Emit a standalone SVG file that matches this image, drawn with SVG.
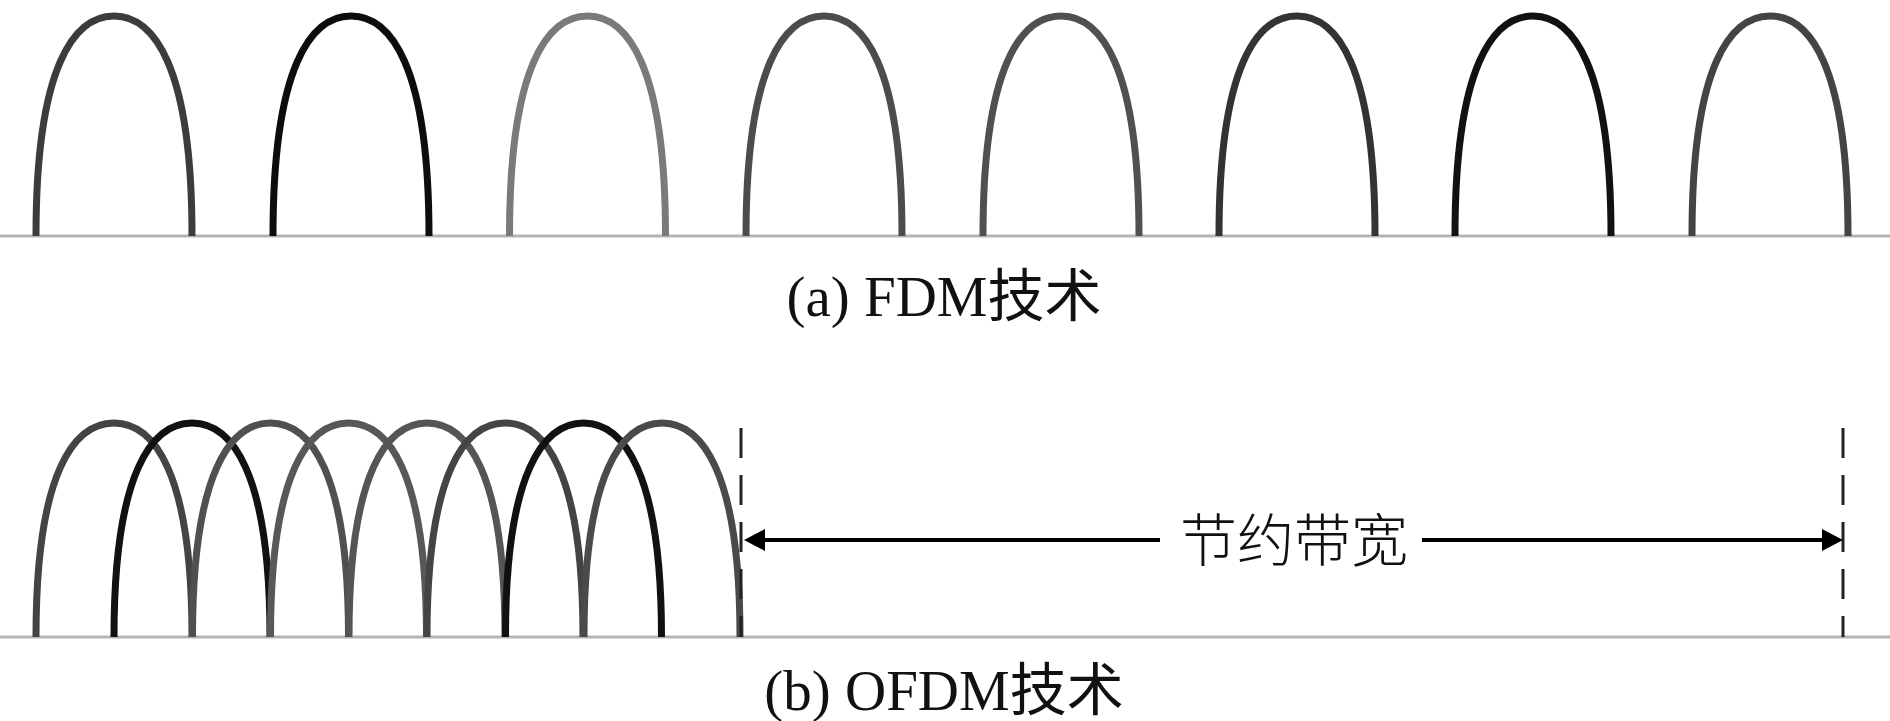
<svg xmlns="http://www.w3.org/2000/svg" xmlns:xlink="http://www.w3.org/1999/xlink" width="1890" height="721" viewBox="0 0 1890 721">
  <style>
    .axis { stroke: #b4b4b4; stroke-width: 3; fill: none; }
    .arch { fill: none; stroke-width: 7; stroke-linecap: butt; }
    .dash { stroke: #222; stroke-width: 3; stroke-dasharray: 30 17; fill: none; }
    .arrow { stroke: #000; stroke-width: 4; fill: none; }
    .cap { font-family: "Liberation Serif", "Noto Sans CJK SC", serif; font-size: 57px; fill: #111; }
    .cjk { font-family: "Noto Sans CJK SC", sans-serif; font-size: 57px; fill: #111; font-weight: 300; }
  </style>
  <defs>
    <path id="archA" d="M0,236 C0,64 39,16 78,16 C117,16 156,64 156,236"/>
    <path id="archB" d="M0,637 C0,470 39,423 78,423 C117,423 156,470 156,637"/>
    <marker id="head" markerUnits="userSpaceOnUse" markerWidth="22" markerHeight="22" refX="10" refY="11" orient="auto-start-reverse">
      <path d="M0,0 L21,11 L0,22 z" fill="#000"/>
    </marker>
  </defs>
  <rect width="1890" height="721" fill="#fff"/>

  <g id="fdm">
    <line class="axis" x1="0" y1="236" x2="1890" y2="236"/>
    <use xlink:href="#archA" class="arch" transform="translate(36,0)" stroke="#3c3c3c"/>
    <use xlink:href="#archA" class="arch" transform="translate(273,0)" stroke="#0d0d0d"/>
    <use xlink:href="#archA" class="arch" transform="translate(509.5,0)" stroke="#7a7a7a"/>
    <use xlink:href="#archA" class="arch" transform="translate(746,0)" stroke="#4c4c4c"/>
    <use xlink:href="#archA" class="arch" transform="translate(983,0)" stroke="#505050"/>
    <use xlink:href="#archA" class="arch" transform="translate(1219,0)" stroke="#333"/>
    <use xlink:href="#archA" class="arch" transform="translate(1455,0)" stroke="#111"/>
    <use xlink:href="#archA" class="arch" transform="translate(1692,0)" stroke="#444"/>
    <text class="cap" x="944" y="316" text-anchor="middle">(a) FDM技术</text>
  </g>

  <g id="ofdm">
    <line class="axis" x1="0" y1="637" x2="1890" y2="637"/>
    <use xlink:href="#archB" class="arch" transform="translate(36,0)" stroke="#444"/>
    <use xlink:href="#archB" class="arch" transform="translate(114,0)" stroke="#111"/>
    <use xlink:href="#archB" class="arch" transform="translate(192.5,0)" stroke="#505050"/>
    <use xlink:href="#archB" class="arch" transform="translate(270.5,0)" stroke="#585858"/>
    <use xlink:href="#archB" class="arch" transform="translate(349,0)" stroke="#555"/>
    <use xlink:href="#archB" class="arch" transform="translate(427,0)" stroke="#444"/>
    <use xlink:href="#archB" class="arch" transform="translate(505.5,0)" stroke="#111"/>
    <use xlink:href="#archB" class="arch" transform="translate(584,0)" stroke="#4a4a4a"/>
    <text class="cap" x="944" y="710" text-anchor="middle">(b) OFDM技术</text>
  </g>

  <g id="connectors">
    <line class="dash" x1="741" y1="428" x2="741" y2="637"/>
    <line class="dash" x1="1843" y1="428" x2="1843" y2="637"/>
    <line class="arrow" x1="755" y1="540" x2="1160" y2="540" marker-start="url(#head)"/>
    <line class="arrow" x1="1422" y1="540" x2="1832" y2="540" marker-end="url(#head)"/>
  </g>

  <g id="saved-bandwidth">
    <text class="cjk" x="1294" y="561" text-anchor="middle">节约带宽</text>
  </g>
</svg>
